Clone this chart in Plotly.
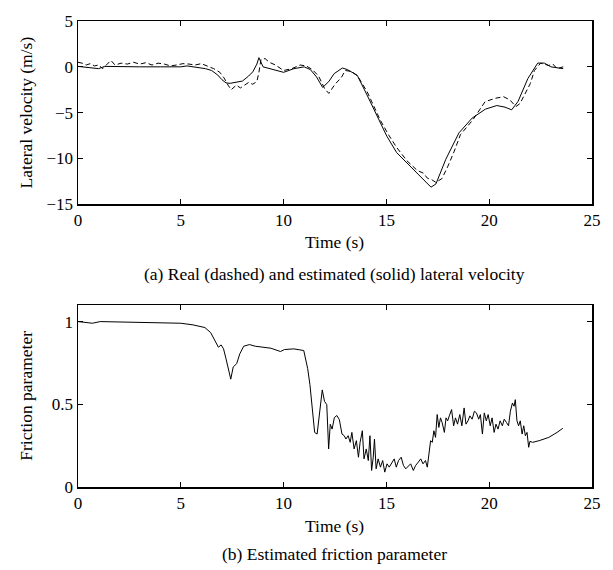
import plotly.graph_objects as go

# ---------------- data: top panel (lateral velocity, m/s) ----------------
t_est = [0.0, 0.5, 1.0, 1.3, 2.0, 3.0, 4.0, 5.0, 5.3, 5.8, 6.2, 6.5, 6.8, 7.0, 7.2, 7.4,
         7.7, 8.0, 8.3, 8.5, 8.7, 8.8, 9.0, 9.5, 10.0, 10.5, 11.0, 11.3, 11.6, 11.9, 12.2,
         12.46, 12.86, 13.1, 13.58, 14.06, 14.54, 15.02, 15.5, 16.13, 16.77, 17.17, 17.41,
         17.89, 18.53, 19.17, 19.81, 20.37, 20.77, 21.09, 21.4, 21.88, 22.36, 22.68, 23.0,
         23.3, 23.6]
v_est = [0.05, -0.1, -0.2, 0.05, 0.0, 0.0, 0.0, 0.0, 0.1, -0.05, -0.2, -0.4, -0.9, -1.4,
         -1.75, -1.8, -1.65, -1.55, -1.0, -0.55, 0.3, 1.0, 0.0, -0.3, -0.6, -0.2, 0.0, -0.3,
         -1.1, -2.25, -1.6, -0.74, -0.13, -0.3, -0.92, -3.08, -5.4, -7.56, -9.36, -10.8,
         -12.16, -13.13, -12.77, -10.08, -7.2, -5.59, -4.62, -4.22, -4.4, -4.69, -3.79,
         -1.28, 0.41, 0.41, 0.0, -0.1, -0.2]

t_real = [0.0, 0.2, 0.4, 0.6, 0.8, 1.0, 1.2, 1.4, 1.6, 1.8, 2.1, 2.4, 2.7, 3.0, 3.3, 3.6,
          3.9, 4.2, 4.5, 4.8, 5.1, 5.4, 5.7, 6.0, 6.3, 6.6, 6.9, 7.1, 7.3, 7.45, 7.7, 7.9,
          8.1, 8.3, 8.5, 8.7, 8.8, 8.9, 9.1, 9.3, 9.6, 10.0, 10.4, 10.8, 11.1, 11.4, 11.7,
          12.0, 12.2, 12.5, 12.8, 13.0, 13.3, 13.6, 14.06, 14.4, 14.7, 15.1, 15.5, 16.0,
          16.5, 16.8, 17.0, 17.2, 17.4, 17.7, 18.0, 18.3, 18.6, 19.2, 19.8, 20.3, 20.7,
          21.0, 21.3, 21.5, 21.7, 22.0, 22.2, 22.5, 22.9, 23.1, 23.3, 23.6]
v_real = [0.5, 0.4, 0.2, 0.35, 0.1, 0.2, -0.2, 0.3, 0.7, 0.2, 0.4, 0.3, 0.5, 0.3, 0.45,
          0.2, 0.4, 0.3, 0.1, 0.2, 0.35, 0.3, 0.2, 0.35, 0.1, -0.2, -0.6, -1.2, -2.0, -2.5,
          -2.0, -2.3, -2.0, -1.7, -1.9, -1.6, -0.6, 0.8, 0.9, 0.5, 0.2, -0.4, -0.2, 0.2,
          0.1, -0.3, -1.0, -2.4, -2.9, -1.9, -1.2, -0.4, -0.5, -1.0, -2.7, -4.3, -5.8, -7.4,
          -8.8, -10.25, -11.3, -11.6, -12.16, -12.3, -12.6, -12.2, -10.8, -9.2, -7.4, -5.8,
          -3.8, -3.43, -3.26, -3.6, -4.33, -4.0, -3.08, -1.82, -0.4, 0.4, 0.15, 0.3, -0.2, 0.0]

# ---------------- data: bottom panel (friction parameter) ----------------
t_fric = [0.0, 0.7, 1.08, 2.0, 3.0, 4.0, 5.0, 5.6, 6.17, 6.45, 6.64, 6.83, 6.96, 7.08, 7.2,
          7.34, 7.43, 7.55, 7.72, 7.87, 8.06, 8.34, 8.62, 9.38, 9.85, 10.04, 10.5, 10.98,
          11.17, 11.28, 11.36, 11.51, 11.63, 11.76, 11.88, 11.99, 12.1, 12.19, 12.27, 12.36,
          12.47, 12.59, 12.71, 12.84, 12.95, 13.03, 13.14, 13.24, 13.32, 13.43, 13.54, 13.64,
          13.72, 13.83, 13.91, 14.02, 14.12, 14.2, 14.28, 14.36, 14.42, 14.5, 14.6, 14.71,
          14.82, 14.92, 15.03, 15.14, 15.27, 15.38, 15.48, 15.59, 15.72, 15.83, 15.94, 16.07,
          16.18, 16.31, 16.42, 16.55, 16.67, 16.78, 16.9, 16.99, 17.07, 17.15, 17.23, 17.31,
          17.39, 17.47, 17.55, 17.63, 17.71, 17.82, 17.9, 17.98, 18.06, 18.17, 18.27, 18.36,
          18.46, 18.57, 18.67, 18.78, 18.87, 18.97, 19.06, 19.17, 19.28, 19.38, 19.49, 19.57,
          19.67, 19.76, 19.86, 19.95, 20.05, 20.14, 20.24, 20.33, 20.43, 20.53, 20.64, 20.73,
          20.84, 20.94, 21.03, 21.13, 21.21, 21.27, 21.35, 21.43, 21.51, 21.6, 21.68, 21.76,
          21.84, 21.92, 21.98, 22.11, 22.43, 22.9, 23.3, 23.51, 23.58]
mu_fric = [1.0, 0.99, 1.0, 0.997, 0.995, 0.99, 0.99, 0.98, 0.964, 0.934, 0.885, 0.845, 0.859,
           0.835, 0.775, 0.696, 0.652, 0.726, 0.746, 0.805, 0.851, 0.861, 0.851, 0.839, 0.819,
           0.831, 0.835, 0.825, 0.716, 0.62, 0.517, 0.33, 0.32, 0.458, 0.587, 0.518, 0.498,
           0.23, 0.379, 0.35, 0.42, 0.432, 0.408, 0.32, 0.31, 0.29, 0.31, 0.27, 0.33, 0.23,
           0.28, 0.18, 0.27, 0.34, 0.17, 0.23, 0.16, 0.31, 0.10, 0.18, 0.29, 0.11, 0.17, 0.12,
           0.16, 0.09, 0.14, 0.12, 0.15, 0.17, 0.12, 0.16, 0.18, 0.13, 0.11, 0.13, 0.14, 0.10,
           0.13, 0.15, 0.17, 0.14, 0.16, 0.12, 0.21, 0.28, 0.27, 0.34, 0.30, 0.438, 0.36, 0.418,
           0.39, 0.33, 0.418, 0.40, 0.43, 0.468, 0.37, 0.418, 0.38, 0.438, 0.37, 0.478, 0.38,
           0.40, 0.43, 0.41, 0.458, 0.448, 0.41, 0.438, 0.32, 0.448, 0.40, 0.438, 0.37, 0.418,
           0.33, 0.38, 0.35, 0.40, 0.37, 0.41, 0.39, 0.37, 0.458, 0.508, 0.488, 0.528, 0.40,
           0.37, 0.40, 0.32, 0.37, 0.31, 0.33, 0.24, 0.276, 0.27, 0.28, 0.30, 0.33, 0.349, 0.355]

x_ticks = [0, 5, 10, 15, 20, 25]
y1_ticks = [-15, -10, -5, 0, 5]
y2_ticks = [0, 0.5, 1]
y2_ticklabels = ["0", "0.5", "1"]

FONT = "Liberation Serif"
TICK_SIZE = 17
LABEL_SIZE = 17.5
CAPTION_SIZE = 17.5
line_style = dict(color="black", width=1)

fig = go.Figure()
fig.add_trace(go.Scatter(x=t_real, y=v_real, mode="lines", xaxis="x", yaxis="y",
                         line=dict(color="black", width=1, dash="5px,3px"), showlegend=False))
fig.add_trace(go.Scatter(x=t_est, y=v_est, mode="lines", xaxis="x", yaxis="y",
                         line=line_style, showlegend=False))
fig.add_trace(go.Scatter(x=t_fric, y=mu_fric, mode="lines", xaxis="x2", yaxis="y2",
                         line=line_style, showlegend=False))

axis_common = dict(showgrid=False, zeroline=False, showline=True, linecolor="black",
                   linewidth=1.5, mirror="allticks", ticks="inside", ticklen=5,
                   tickcolor="black", tickwidth=1, ticklabeloverflow="allow",
                   tickfont=dict(family=FONT, size=TICK_SIZE, color="black"))

W, H = 613, 570
left_px, right_px = 78, 599
top_px, bot_px = 15, 487
plot_h = bot_px - top_px
plot_w = right_px - left_px


def py(p):
    return (bot_px - p) / plot_h


def px(p):
    return (p - left_px) / plot_w


fig.update_layout(
    width=W, height=H,
    margin=dict(l=left_px, r=W - right_px, t=top_px, b=H - bot_px),
    paper_bgcolor="white", plot_bgcolor="white",
    font=dict(family=FONT, color="black"),
    xaxis=dict(axis_common, domain=[0, 1], range=[0, 25], tickvals=x_ticks, anchor="y"),
    yaxis=dict(axis_common, domain=[py(200.7), 1], range=[-15, 5], tickvals=y1_ticks,
               anchor="x"),
    xaxis2=dict(axis_common, domain=[0, 1], range=[0, 25], tickvals=x_ticks, anchor="y2"),
    yaxis2=dict(axis_common, domain=[0, py(302.7)], range=[0, 1.1], tickvals=y2_ticks,
                ticktext=y2_ticklabels, anchor="x2"),
)

ann = [
    dict(text="Time (s)", y=py(239), size=LABEL_SIZE),
    dict(text="(a) Real (dashed) and estimated (solid) lateral velocity", y=py(271.5),
         size=CAPTION_SIZE),
    dict(text="Time (s)", y=py(526.5), size=LABEL_SIZE),
    dict(text="(b) Estimated friction parameter", y=py(555), size=CAPTION_SIZE),
]
for a in ann:
    fig.add_annotation(text=a["text"], xref="paper", yref="paper", x=px(338), y=a["y"],
                       xanchor="center", yanchor="middle", showarrow=False,
                       font=dict(family=FONT, size=a["size"], color="black"))

for title, ymid in [("Lateral velocity (m/s)", (15 + 200.7) / 2),
                    ("Friction parameter", (302.7 + 487) / 2)]:
    fig.add_annotation(text=title, xref="paper", yref="paper", x=px(25),
                       y=py(ymid), xanchor="center", yanchor="middle", textangle=-90,
                       showarrow=False, font=dict(family=FONT, size=LABEL_SIZE, color="black"))

# remove the browser's default 8 px body margin so the figure fills the window exactly
fig.write_html("out.html",
               config={"displayModeBar": False, "staticPlot": True},
               post_script="document.body.style.margin='0';"
                           "document.body.style.overflow='hidden';")
